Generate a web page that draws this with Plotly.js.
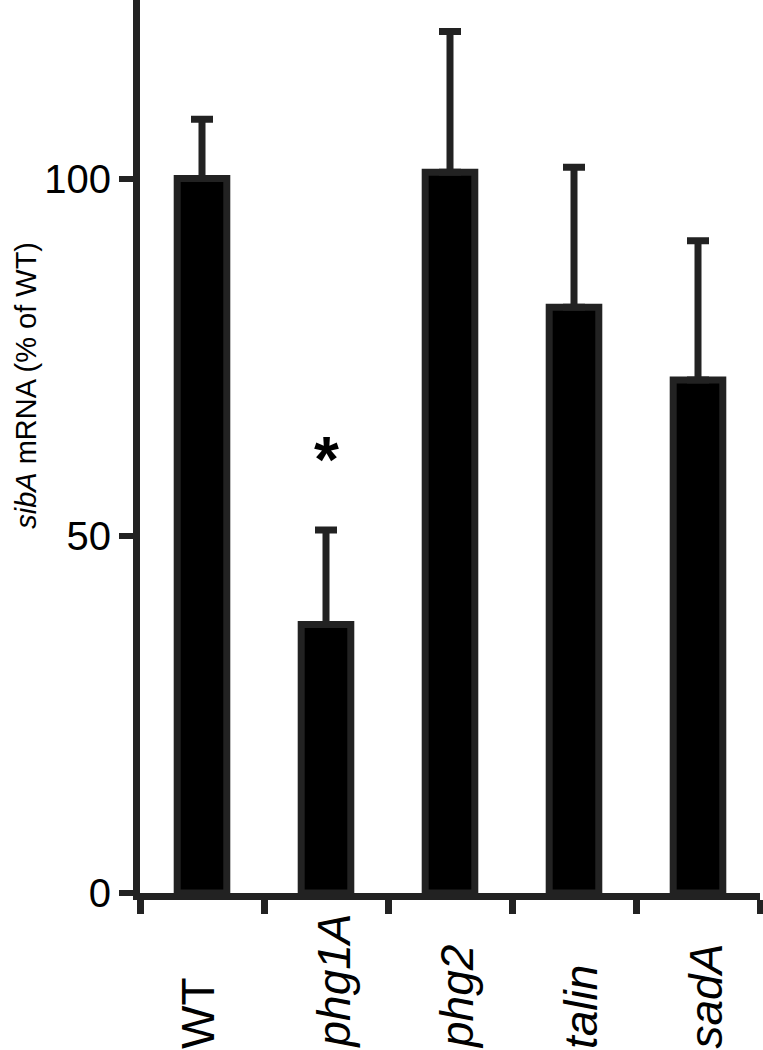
<!DOCTYPE html>
<html>
<head>
<meta charset="utf-8">
<script src="https://cdn.plot.ly/plotly-3.0.1.min.js"></script>
<style>
  body { margin: 0; background: #fff; }
  #chart { width: 763px; height: 1050px; }
</style>
</head>
<body>
<div id="chart"></div>
<script>
// strains and sibA mRNA levels (% of WT)
var strains = ['WT', 'phg1A', 'phg2', 'talin', 'sadA'];
var strainLabels = ['WT', '<i>phg1A</i>', '<i>phg2</i>', '<i>talin</i>', '<i>sadA</i>'];
var means = [100, 37.6, 100.9, 82.0, 71.8];
var errUp = [8.3, 13.2, 19.7, 19.6, 19.5];
var errDown = [0, 0, 0, 0, 0];
var significant = ['phg1A'];
var yTicks = [0, 50, 100];
var yTitle = '<i>sibA</i> mRNA (% of WT)';

var ink = '#222';
var fontFam = '"Liberation Sans", Arial, Helvetica, sans-serif';

var trace = {
    type: 'bar',
    x: strains,
    y: means,
    width: 0.4,
    marker: {
        color: '#000',
        line: { color: ink, width: 7 }
    },
    error_y: {
        type: 'data',
        symmetric: false,
        array: errUp,
        arrayminus: errDown,
        color: ink,
        thickness: 7,
        width: 11
    },
    hoverinfo: 'x+y'
};

// category labels sit below the axis, reading upwards
var annotations = strains.map(function (s, i) {
    return {
        x: s, xref: 'x',
        y: 0, yref: 'paper',
        yanchor: 'bottom', yshift: -158,
        xanchor: 'center',
        xshift: s === 'WT' ? -4 : 7,   // italic labels lean a bit right
        textangle: -90,
        text: strainLabels[i],
        showarrow: false,
        font: { family: fontFam, size: 46, color: '#000' }
    };
});

// y axis title, drawn as an annotation to place it at the far left
annotations.push({
    x: 0, xref: 'paper', xanchor: 'center', xshift: -114,
    y: 71, yref: 'y', yanchor: 'middle',
    textangle: -90,
    text: yTitle,
    showarrow: false,
    font: { family: fontFam, size: 29, color: '#000' }
});

// significance star
significant.forEach(function (s) {
    var i = strains.indexOf(s);
    annotations.push({
        x: s, xref: 'x',
        y: means[i] + errUp[i] + 9.8, yref: 'y',
        yanchor: 'middle',
        text: '*',
        showarrow: false,
        font: { family: fontFam, size: 64, color: '#000', weight: 'bold' }
    });
});

var layout = {
    width: 763,
    height: 1050,
    margin: { l: 140, r: 3, t: 0, b: 157 },
    paper_bgcolor: '#fff',
    plot_bgcolor: '#fff',
    showlegend: false,
    font: { family: fontFam, color: '#000' },
    xaxis: {
        type: 'category',
        range: [-0.5, 4.5],
        showline: true,
        linecolor: ink,
        linewidth: 7,
        ticks: 'outside',
        tickson: 'boundaries',
        ticklen: 14,
        tickwidth: 7,
        tickcolor: ink,
        showticklabels: false,
        showgrid: false,
        zeroline: false,
        fixedrange: true
    },
    yaxis: {
        range: [0, 125],
        tickvals: yTicks,
        ticktext: yTicks.map(String),
        showline: true,
        linecolor: ink,
        linewidth: 7,
        ticks: 'outside',
        ticklen: 14,
        tickwidth: 6,
        tickcolor: ink,
        tickfont: { family: fontFam, size: 40, color: '#000' },
        showgrid: false,
        zeroline: false,
        fixedrange: true
    },
    annotations: annotations
};

Plotly.newPlot('chart', [trace], layout, { displayModeBar: false, staticPlot: true });
</script>
</body>
</html>
